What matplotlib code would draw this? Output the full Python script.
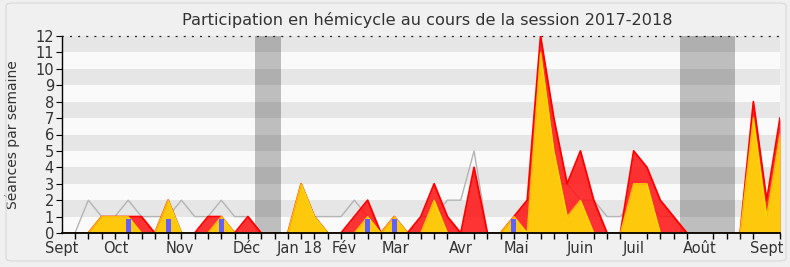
import numpy as np
import matplotlib
matplotlib.use("Agg")
import matplotlib.pyplot as plt
from matplotlib.patches import FancyBboxPatch

# weekly values, session 2017-2018 (week 0 = early september)
weeks = np.arange(55)
presence = [0, 0, 0, 1, 1, 1, 1, 0, 2, 0, 0, 1, 1, 0, 1, 0, 0, 0, 3, 1,
            0, 0, 1, 2, 0, 1, 0, 1, 3, 1, 0, 4, 0, 0, 1, 2, 12, 7, 3, 5,
            2, 0, 0, 5, 4, 2, 1, 0, 0, 0, 0, 0, 8, 2, 7]
participation = [0, 0, 0, 1, 1, 1, 0, 0, 2, 0, 0, 0, 1, 0, 0, 0, 0, 0, 3, 1,
                 0, 0, 0, 1, 0, 1, 0, 0, 2, 0, 0, 0, 0, 0, 1, 0, 11, 5, 1, 2,
                 0, 0, 0, 3, 3, 0, 0, 0, 0, 0, 0, 0, 7, 1, 6]
mediane = [0, 0, 2, 1, 1, 2, 1, 1, 1, 2, 1, 1, 2, 1, 1, 0, 0, 0, 2, 1,
           1, 1, 2, 1, 0, 1, 0, 1, 1, 2, 2, 5, 0, 0, 1, 2, 3, 3, 3, 2,
           2, 1, 1, 2, 2, 1, 1, 0, 0, 0, 0, 0, 2, 1, 2]
question_weeks = [5, 8, 12, 23, 25, 34]
question_vals = [0.85, 0.85, 0.85, 0.85, 0.85, 0.85]
vacances = [(14.5, 16.5), (46.5, 50.6)]
month_labels = ["Sept", "Oct", "Nov", "Déc", "Jan 18", "Fév", "Mar", "Avr",
                "Mai", "Juin", "Juil", "Août", "Sept"]
month_pos = [0, 4.1, 8.9, 13.9, 17.9, 21.2, 25.1, 30, 34.2, 39, 43, 48, 53]

fig = plt.figure(figsize=(7.9, 2.67), dpi=100, facecolor="#f0f0f0")
fig.patches.append(FancyBboxPatch((6 / 790, 6 / 267), 780 / 790, 258 / 267,
                                  boxstyle="round,pad=0,rounding_size=0.01",
                                  transform=fig.transFigure, facecolor="none",
                                  edgecolor="#dcdcdc", lw=1))
ax = fig.add_axes([61.7 / 790, 34 / 267, 718.3 / 790, 197 / 267])
ax.set_facecolor("#fafafa")

# horizontal bands
for y in range(1, 12, 2):
    ax.axhspan(y, y + 1, color="#e6e6e6", lw=0, zorder=0)
for a, b in vacances:
    ax.axvspan(a, b, color="black", alpha=0.24, lw=0, zorder=1)

ax.plot(weeks, mediane, color="#b4b4b4", lw=1, zorder=2)
ax.fill_between(weeks, presence, color="#ff1010", alpha=0.85, lw=0, zorder=3)
ax.plot(weeks, presence, color="#ff0000", lw=1.3, zorder=4)
ax.fill_between(weeks, participation, color="#ffd20a", alpha=0.95, lw=0, zorder=5)
ax.plot(weeks, participation, color="#ffe600", lw=1, alpha=0.8, zorder=6)
ax.bar(question_weeks, question_vals, width=0.38, color="#6060ff", zorder=7)

ax.set_xlim(0, 54)
ax.set_ylim(0, 12)
ax.set_yticks(range(13))
ax.set_xticks(month_pos)
ax.set_xticklabels(month_labels)
ax.set_xticks(weeks, minor=True)
ax.tick_params(axis="x", which="major", length=0, pad=6, labelsize=10.5,
               labelcolor="#333333")
ax.tick_params(axis="x", which="minor", direction="out", length=4, width=1,
               color="black")
ax.tick_params(axis="y", direction="out", length=4, pad=1.5, labelsize=10.5,
               labelcolor="#333333")
ax.spines["right"].set_visible(False)
ax.spines["top"].set_linestyle((0, (0.6, 5.9)))
ax.spines["top"].set_linewidth(0.9)
ax.spines["top"].set_color("#222222")
ax.spines["bottom"].set_linewidth(1.3)
ax.spines["bottom"].set_zorder(8)
ax.spines["left"].set_linewidth(1)

ax.set_ylabel("Séances par semaine", fontsize=10, color="#333333")
ax.yaxis.set_label_coords(-42 / 718.3, 0.5)
fig.text(427 / 790, 1 - 20 / 267,
         "Participation en hémicycle au cours de la session 2017-2018",
         ha="center", va="center", fontsize=11.6, color="#333333")

fig.savefig("out.png", dpi=100, facecolor=fig.get_facecolor())
